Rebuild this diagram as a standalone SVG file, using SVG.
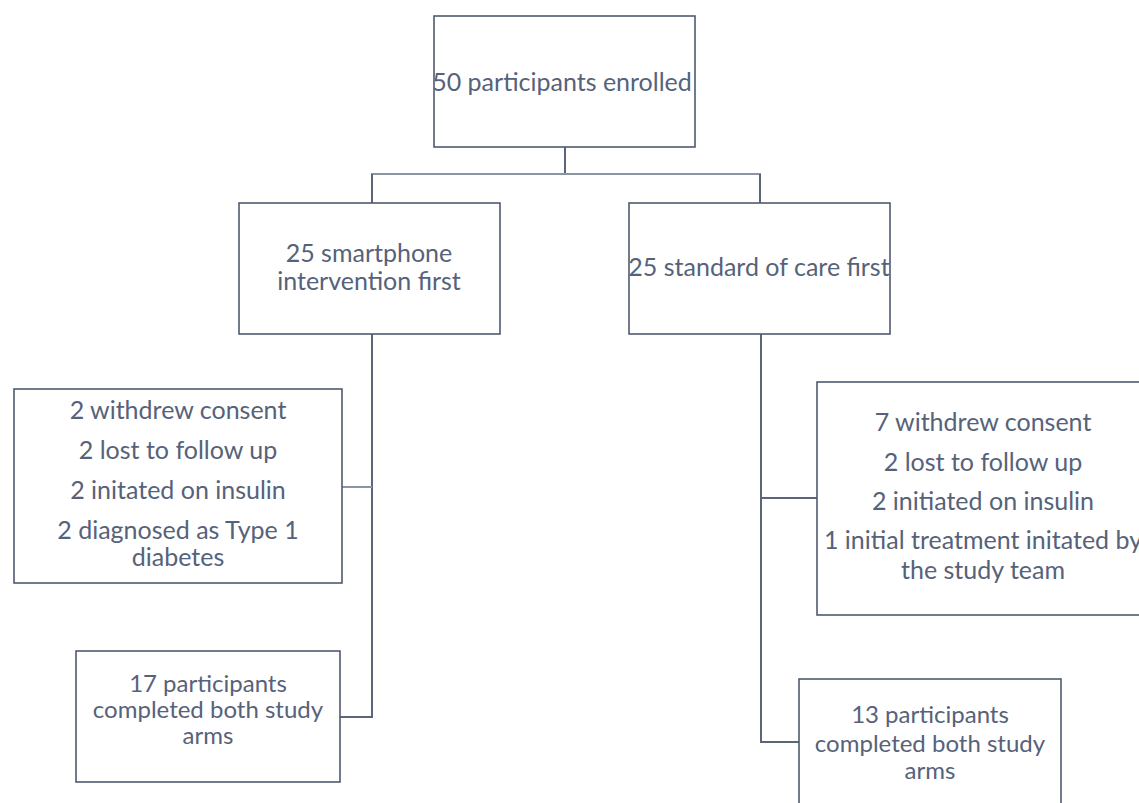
<svg xmlns="http://www.w3.org/2000/svg" width="1139" height="803" viewBox="0 0 1139 803">
<style>
.box{fill:#ffffff;stroke:#4f5b6e;stroke-width:1.6}
.t{font-family:Lato,"Open Sans","Liberation Sans",sans-serif;font-size:25px;fill:#56627a;text-anchor:middle}
.s{font-size:24px}
.c{fill:none;stroke:#5b6679;stroke-width:2}
.h{fill:none;stroke:#8c95a3;stroke-width:2}
</style>
<rect width="1139" height="803" fill="#ffffff"/>
<g id="connectors">
<line class="c" x1="565" y1="147" x2="565" y2="174"/>
<line class="h" x1="371" y1="174" x2="761" y2="174"/>
<line class="c" x1="372" y1="174" x2="372" y2="203"/>
<line class="c" x1="760" y1="174" x2="760" y2="203"/>
<polyline class="c" points="372,334 372,717 340,717"/>
<line class="h" x1="342" y1="487" x2="372" y2="487"/>
<polyline class="c" points="761,334 761,742 799,742"/>
<line class="c" x1="761" y1="498" x2="817" y2="498"/>
</g>
<g id="enrolled">
<rect class="box" x="434" y="16" width="261" height="131"/>
<text class="t" x="562" y="91">50 participants enrolled</text>
</g>
<g id="smartphone">
<rect class="box" x="239" y="203" width="261" height="131"/>
<text class="t" x="369" y="262">25 smartphone</text>
<text class="t" x="369" y="290">intervention first</text>
</g>
<g id="standard">
<rect class="box" x="629" y="203" width="261" height="131"/>
<text class="t" x="759" y="276">25 standard of care first</text>
</g>
<g id="left-drop">
<rect class="box" x="14" y="389" width="328" height="194"/>
<text class="t" x="178" y="419">2 withdrew consent</text>
<text class="t" x="178" y="459">2 lost to follow up</text>
<text class="t" x="178" y="499">2 initated on insulin</text>
<text class="t" x="178" y="539">2 diagnosed as Type 1</text>
<text class="t" x="178" y="566">diabetes</text>
</g>
<g id="right-drop">
<rect class="box" x="817" y="382" width="335" height="233"/>
<text class="t" x="983" y="431">7 withdrew consent</text>
<text class="t" x="983" y="471">2 lost to follow up</text>
<text class="t" x="983" y="510">2 initiated on insulin</text>
<text class="t" x="983" y="549">1 initial treatment initated by</text>
<text class="t" x="983" y="579">the study team</text>
</g>
<g id="left-complete">
<rect class="box" x="76" y="651" width="264" height="131"/>
<text class="t s" x="208" y="692">17 participants</text>
<text class="t s" x="208" y="718">completed both study</text>
<text class="t s" x="208" y="744">arms</text>
</g>
<g id="right-complete">
<rect class="box" x="799" y="679" width="262" height="140"/>
<text class="t s" x="930" y="723">13 participants</text>
<text class="t s" x="930" y="752">completed both study</text>
<text class="t s" x="930" y="779">arms</text>
</g>
</svg>
